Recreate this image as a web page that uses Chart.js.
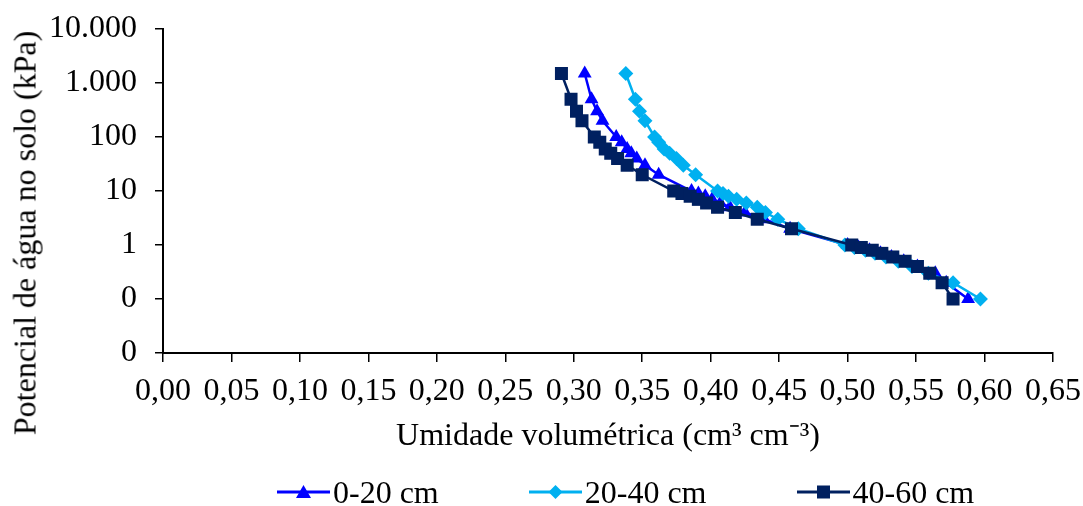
<!DOCTYPE html>
<html>
<head>
<meta charset="utf-8">
<script src="https://cdn.jsdelivr.net/npm/chart.js@4/dist/chart.umd.min.js"></script>
<style>
  body { margin: 0; background: #fff; }
  #wrap { position: relative; width: 1083px; height: 506px; font-family: "Liberation Serif", "Times New Roman", serif; }
  #yTitle {
    position: absolute; left: 25px; top: 233px;
    transform: translate(-50%, -50%) rotate(-90deg);
    white-space: nowrap; font-size: 32px; color: #000;
  }
  #legend {
    position: absolute; left: 277px; top: 474px; height: 36px;
    display: flex; align-items: center; font-size: 32px; line-height: 36px; color: #000;
  }
  .item { display: flex; align-items: center; margin-right: 90px; }
  .item svg { margin-right: 3px; }
</style>
</head>
<body>
<div id="wrap">
  <canvas id="curveChart"></canvas>
  <div id="yTitle">Potencial de água no solo (kPa)</div>
  <div id="legend"></div>
</div>
<script>
// series names and colours
const seriesNames = ["0-20 cm", "20-40 cm", "40-60 cm"];
const seriesColors = ["#0000FF", "#00B0F0", "#002060"];
const seriesMarkers = ["triangle", "rectRot", "rect"];

// soil water potential (kPa), same levels for every depth
const potencial = [1500, 500, 300, 200, 100, 80, 60, 50, 40, 30, 20, 10, 9, 8, 7, 6, 5, 4, 3, 2,
  1, 0.9, 0.8, 0.7, 0.6, 0.5, 0.4, 0.3, 0.2, 0.1];

// volumetric water content (cm3 cm-3)
const umidade0a20 = [0.308, 0.313, 0.317, 0.321, 0.331, 0.335, 0.339, 0.342, 0.346, 0.352, 0.362,
  0.386, 0.391, 0.396, 0.401, 0.407, 0.414, 0.425, 0.439, 0.458,
  0.500, 0.508, 0.516, 0.524, 0.532, 0.541, 0.551, 0.564, 0.572, 0.588];
const umidade20a40 = [0.338, 0.345, 0.348, 0.352, 0.359, 0.362, 0.366, 0.370, 0.375, 0.380, 0.389,
  0.405, 0.409, 0.413, 0.419, 0.426, 0.434, 0.440, 0.449, 0.464,
  0.498, 0.505, 0.513, 0.520, 0.528, 0.537, 0.547, 0.559, 0.577, 0.597];
const umidade40a60 = [0.291, 0.298, 0.302, 0.306, 0.315, 0.319, 0.323, 0.327, 0.332, 0.339, 0.350,
  0.373, 0.379, 0.385, 0.391, 0.397, 0.405, 0.418, 0.434, 0.459,
  0.503, 0.510, 0.518, 0.525, 0.533, 0.542, 0.551, 0.560, 0.569, 0.577];

// axis ticks
const yTicks = [0.01, 0.1, 1, 10, 100, 1000, 10000];
const yTickLabels = ["0", "0", "1", "10", "100", "1.000", "10.000"];
const xMin = 0;
const xMax = 0.65;
const xStep = 0.05;

function toPoints(xs, ys) {
  return xs.map((x, i) => ({ x: x, y: ys[i] }));
}

const allSeries = [umidade0a20, umidade20a40, umidade40a60];
const markerRadius = [8, 7.5, 9.2];

const datasets = allSeries.map((vals, i) => ({
  label: seriesNames[i],
  data: toPoints(vals, potencial),
  borderColor: seriesColors[i],
  backgroundColor: seriesColors[i],
  borderWidth: 2.5,
  pointStyle: seriesMarkers[i],
  pointRadius: markerRadius[i],
  pointBorderWidth: 0,
  showLine: true,
  order: 2 - i, // last series drawn on top, like the original
}));

const font = { family: "'Liberation Serif', 'Times New Roman', serif", size: 32 };

const ctx = document.getElementById("curveChart").getContext("2d");
new Chart(ctx, {
  type: "scatter",
  data: { datasets: datasets },
  options: {
    responsive: true,
    maintainAspectRatio: false,
    animation: false,
    layout: { padding: { top: 29, right: 30, left: 0, bottom: 0 } },
    plugins: {
      legend: { display: false },
      tooltip: { enabled: false },
    },
    scales: {
      x: {
        type: "linear",
        min: xMin,
        max: xMax,
        ticks: {
          stepSize: xStep,
          color: "#000",
          font: font,
          padding: 10,
          maxRotation: 0,
          autoSkip: false,
          callback: (v) => Number(v).toFixed(2).replace(".", ","),
        },
        grid: { drawOnChartArea: false, drawTicks: true, tickLength: 9, color: "#000", lineWidth: 1.5 },
        border: { display: true, color: "#000", width: 2 },
        title: {
          display: true,
          text: "Umidade volumétrica (cm³ cm⁻³)",
          color: "#000",
          font: font,
          padding: { top: 0, bottom: 50 },
        },
        afterFit: (scale) => {
          scale.height = 153;
          scale.paddingLeft = 0;
          scale.paddingRight = 0;
        },
      },
      y: {
        type: "logarithmic",
        min: yTicks[0],
        max: yTicks[yTicks.length - 1],
        afterBuildTicks: (scale) => {
          scale.ticks = yTicks.map((v) => ({ value: v }));
        },
        ticks: {
          color: "#000",
          font: font,
          padding: 18,
          autoSkip: false,
          callback: (v) => {
            const idx = yTicks.findIndex((t) => Math.abs(Math.log10(t) - Math.log10(v)) < 1e-6);
            return idx >= 0 ? yTickLabels[idx] : "";
          },
        },
        grid: { drawOnChartArea: false, drawTicks: true, tickLength: 8, color: "#000", lineWidth: 1.5 },
        border: { display: true, color: "#000", width: 2 },
        afterFit: (scale) => {
          scale.width = 163;
          scale.paddingTop = 0;
          scale.paddingBottom = 0;
        },
      },
    },
  },
});

// legend with line + marker icons
function markerSvg(style, color) {
  if (style === "triangle") return `<polygon points="26.5,3 34,16 19,16" fill="${color}"/>`;
  if (style === "rectRot") return `<polygon points="26.5,3 33.5,10 26.5,17 19.5,10" fill="${color}"/>`;
  return `<rect x="20" y="3.5" width="13" height="13" fill="${color}"/>`;
}
const legend = document.getElementById("legend");
seriesNames.forEach((name, i) => {
  const item = document.createElement("div");
  item.className = "item";
  item.innerHTML =
    `<svg width="53" height="20"><line x1="0" y1="10" x2="53" y2="10" stroke="${seriesColors[i]}" stroke-width="3"/>` +
    markerSvg(seriesMarkers[i], seriesColors[i]) + `</svg><span>${name}</span>`;
  legend.appendChild(item);
});
</script>
</body>
</html>
